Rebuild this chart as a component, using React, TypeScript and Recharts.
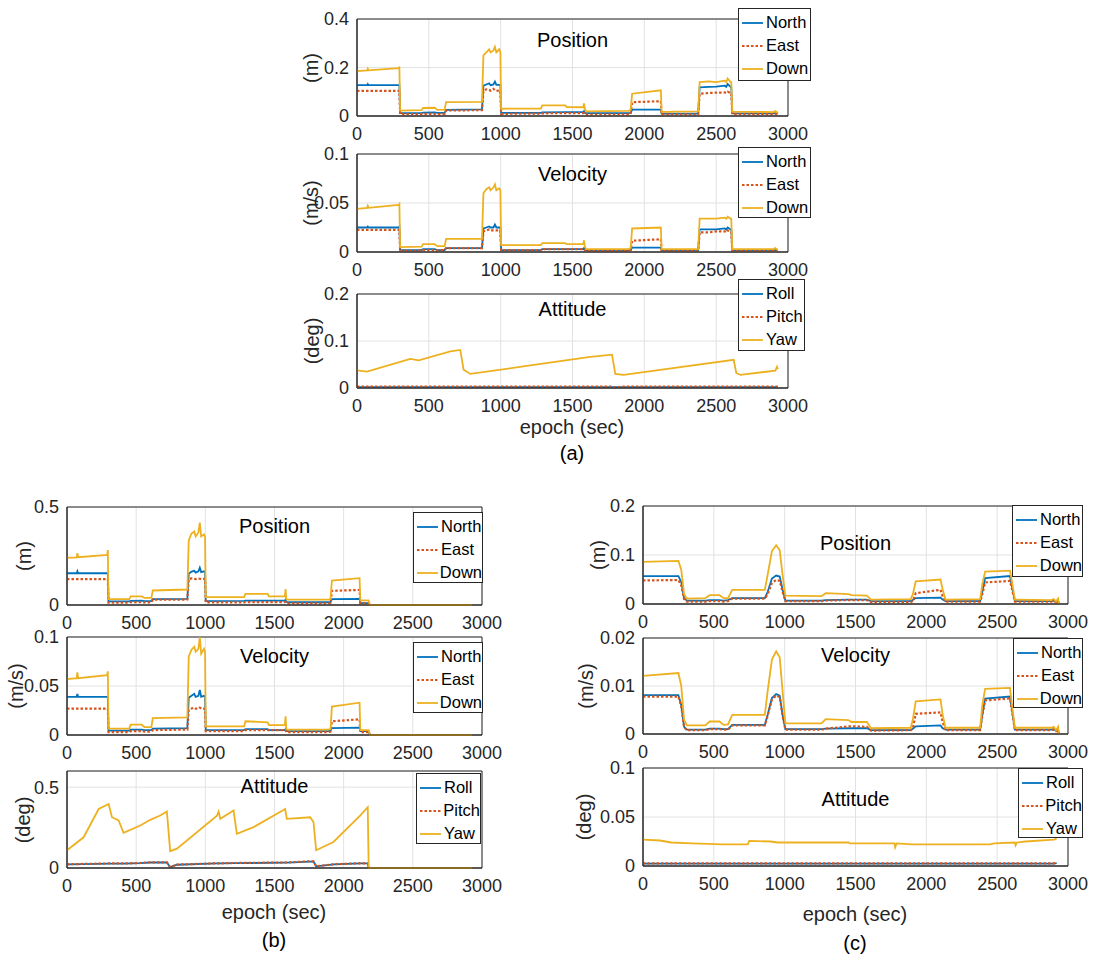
import React from "react";
import {
  LineChart,
  Line,
  XAxis,
  YAxis,
  CartesianGrid,
  Legend,
  ReferenceArea,
} from "recharts";

const BLUE = "#0072BD";
const RED = "#D95319";
const YELLOW = "#EDB120";
const AXIS = "#262626";
const FONT = "'Liberation Sans', Arial, Helvetica, sans-serif";

const X_TICKS = [0, 500, 1000, 1500, 2000, 2500, 3000];
const NED = ["North", "East", "Down"];
const RPY = ["Roll", "Pitch", "Yaw"];
const SERIES_COLORS = [BLUE, RED, YELLOW];

// epochs shared by the stepped position / velocity panels of (a) and (b)
const STEP_EPOCH = [
  0, 70, 75, 80, 290, 295,
  300, 450, 460, 540, 560, 610,
  620, 870,
  880, 900, 920, 930, 950, 960, 970, 990, 998,
  1003, 1280, 1290, 1450, 1460, 1575, 1580, 1585,
  1595, 1890, 1905,
  1915, 2115,
  2120, 2180, 2190, 2375,
  2385, 2450, 2500, 2560, 2570, 2580, 2600, 2605,
  2612, 2900, 2910, 2920, 2930,
];

// (a) position
const A_POS_NORTH = [
  0.127, 0.127, 0.132, 0.127, 0.127, 0.127,
  0.012, 0.012, 0.014, 0.015, 0.013, 0.013,
  0.025, 0.027,
  0.125, 0.13, 0.135, 0.127, 0.13, 0.142, 0.128, 0.128, 0.127,
  0.013, 0.013, 0.015, 0.016, 0.016, 0.016, 0.02, 0.013,
  0.012, 0.012, 0.013,
  0.026, 0.026,
  0.01, 0.01, 0.01, 0.01,
  0.118, 0.12, 0.121, 0.125, 0.12, 0.132, 0.12, 0.12,
  0.011, 0.011, 0.012, 0.012, 0.01,
];
const A_POS_EAST = [
  0.104, 0.104, 0.104, 0.104, 0.104, 0.104,
  0.008, 0.008, 0.009, 0.009, 0.008, 0.009,
  0.023, 0.024,
  0.105, 0.11, 0.108, 0.104, 0.112, 0.105, 0.104, 0.105, 0.104,
  0.009, 0.01, 0.011, 0.012, 0.012, 0.012, 0.013, 0.009,
  0.006, 0.007, 0.008,
  0.057, 0.061,
  0.007, 0.007, 0.007, 0.007,
  0.092, 0.095, 0.096, 0.097, 0.095, 0.1, 0.095, 0.095,
  0.008, 0.008, 0.009, 0.009, 0.007,
];
const A_POS_DOWN = [
  0.185, 0.188, 0.195, 0.188, 0.197, 0.203,
  0.022, 0.024, 0.033, 0.034, 0.025, 0.026,
  0.057, 0.058,
  0.25, 0.262, 0.275, 0.262, 0.27, 0.285, 0.262, 0.275, 0.262,
  0.03, 0.031, 0.044, 0.044, 0.037, 0.036, 0.052, 0.03,
  0.019, 0.021, 0.025,
  0.092, 0.106,
  0.017, 0.017, 0.018, 0.019,
  0.14, 0.143, 0.14, 0.146, 0.14, 0.155, 0.14, 0.14,
  0.018, 0.016, 0.02, 0.017, 0.012,
];

// (a) velocity
const A_VEL_NORTH = [
  0.025, 0.025, 0.026, 0.025, 0.025, 0.026,
  0.002, 0.002, 0.003, 0.003, 0.002, 0.002,
  0.004, 0.004,
  0.024, 0.025, 0.026, 0.025, 0.025, 0.028, 0.025, 0.025, 0.025,
  0.002, 0.002, 0.003, 0.003, 0.003, 0.003, 0.004, 0.002,
  0.002, 0.002, 0.002,
  0.0045, 0.0045,
  0.002, 0.002, 0.002, 0.002,
  0.023, 0.023, 0.023, 0.024, 0.023, 0.025, 0.023, 0.023,
  0.002, 0.002, 0.002, 0.002, 0.002,
];
const A_VEL_EAST = [
  0.0225, 0.0225, 0.0225, 0.0225, 0.0225, 0.0225,
  0.0015, 0.0015, 0.002, 0.002, 0.0015, 0.002,
  0.004, 0.004,
  0.021, 0.022, 0.023, 0.022, 0.022, 0.022, 0.022, 0.022, 0.022,
  0.002, 0.002, 0.003, 0.003, 0.003, 0.003, 0.003, 0.002,
  0.001, 0.001, 0.002,
  0.0115, 0.013,
  0.0015, 0.0015, 0.0015, 0.0015,
  0.02, 0.02, 0.021, 0.021, 0.02, 0.022, 0.02, 0.02,
  0.0015, 0.0015, 0.0015, 0.0015, 0.0015,
];
const A_VEL_DOWN = [
  0.044, 0.045, 0.047, 0.045, 0.048, 0.049,
  0.005, 0.0055, 0.008, 0.008, 0.006, 0.006,
  0.0133, 0.0135,
  0.06, 0.064, 0.066, 0.063, 0.066, 0.069, 0.063, 0.065, 0.063,
  0.007, 0.007, 0.009, 0.009, 0.008, 0.008, 0.012, 0.006,
  0.003, 0.003, 0.004,
  0.024, 0.025,
  0.003, 0.003, 0.003, 0.003,
  0.034, 0.034, 0.034, 0.035, 0.034, 0.036, 0.034, 0.034,
  0.003, 0.003, 0.004, 0.003, 0.002,
];

// (a) attitude
const A_ATT_EPOCH = [0, 70, 371, 430, 650, 719, 742, 789, 1230, 1624, 1775, 1798, 1856, 2622, 2640, 2668, 2912, 2923, 2930];
const A_ATT_ROLL = [0.002, 0.002, 0.002, 0.002, 0.002, 0.002, 0.002, 0.002, 0.002, 0.002, 0.002, 0.002, 0.002, 0.002, 0.002, 0.002, 0.002, 0.002, 0.002];
const A_ATT_PITCH = [0.003, 0.003, 0.003, 0.003, 0.003, 0.003, 0.003, 0.003, 0.003, 0.003, 0.003, 0.001, 0.003, 0.003, 0.003, 0.003, 0.003, 0.003, 0.003];
const A_ATT_YAW = [0.0375, 0.035, 0.062, 0.059, 0.078, 0.081, 0.039, 0.03, 0.049, 0.066, 0.071, 0.03, 0.028, 0.06, 0.032, 0.028, 0.037, 0.045, 0.04];

// (b) position
const B_POS_NORTH = [
  0.162, 0.162, 0.172, 0.162, 0.162, 0.162,
  0.019, 0.019, 0.021, 0.022, 0.02, 0.02,
  0.03, 0.031,
  0.16, 0.17, 0.174, 0.165, 0.172, 0.19, 0.168, 0.172, 0.168,
  0.02, 0.021, 0.022, 0.022, 0.022, 0.022, 0.028, 0.016,
  0.014, 0.014, 0.015,
  0.03, 0.031,
  0.01, 0.01, 0, 0,
  0, 0, 0, 0, 0, 0, 0, 0,
  0, 0, 0, 0, 0,
];
const B_POS_EAST = [
  0.132, 0.132, 0.132, 0.132, 0.132, 0.132,
  0.012, 0.012, 0.014, 0.014, 0.013, 0.013,
  0.027, 0.028,
  0.132, 0.136, 0.134, 0.132, 0.135, 0.134, 0.132, 0.133, 0.132,
  0.013, 0.013, 0.015, 0.015, 0.015, 0.015, 0.016, 0.01,
  0.008, 0.008, 0.01,
  0.072, 0.077,
  0.008, 0.008, 0, 0,
  0, 0, 0, 0, 0, 0, 0, 0,
  0, 0, 0, 0, 0,
];
const B_POS_DOWN = [
  0.241, 0.243, 0.265, 0.244, 0.255, 0.28,
  0.03, 0.03, 0.044, 0.044, 0.036, 0.036,
  0.074, 0.079,
  0.33, 0.365, 0.375, 0.35, 0.37, 0.42, 0.35, 0.36, 0.348,
  0.04, 0.04, 0.057, 0.057, 0.044, 0.044, 0.081, 0.03,
  0.027, 0.027, 0.03,
  0.125, 0.137,
  0.024, 0.024, 0, 0,
  0, 0, 0, 0, 0, 0, 0, 0,
  0, 0, 0, 0, 0,
];

// (b) velocity
const B_VEL_NORTH = [
  0.039, 0.039, 0.042, 0.039, 0.039, 0.039,
  0.0045, 0.0045, 0.0055, 0.0055, 0.005, 0.005,
  0.0065, 0.007,
  0.038, 0.04, 0.042, 0.039, 0.04, 0.046, 0.039, 0.04, 0.039,
  0.005, 0.005, 0.006, 0.006, 0.005, 0.005, 0.006, 0.004,
  0.004, 0.004, 0.0045,
  0.0071, 0.0075,
  0.004, 0.004, 0, 0,
  0, 0, 0, 0, 0, 0, 0, 0,
  0, 0, 0, 0, 0,
];
const B_VEL_EAST = [
  0.027, 0.027, 0.027, 0.027, 0.027, 0.027,
  0.003, 0.003, 0.004, 0.004, 0.0035, 0.0035,
  0.005, 0.0055,
  0.026, 0.027, 0.028, 0.027, 0.027, 0.028, 0.027, 0.027, 0.026,
  0.004, 0.004, 0.005, 0.005, 0.005, 0.005, 0.005, 0.003,
  0.003, 0.003, 0.0035,
  0.014, 0.016,
  0.003, 0.003, 0, 0,
  0, 0, 0, 0, 0, 0, 0, 0,
  0, 0, 0, 0, 0,
];
const B_VEL_DOWN = [
  0.057, 0.058, 0.064, 0.058, 0.061, 0.065,
  0.0065, 0.0065, 0.0105, 0.0105, 0.008, 0.008,
  0.0173, 0.018,
  0.08, 0.087, 0.09, 0.085, 0.088, 0.1, 0.083, 0.088, 0.085,
  0.0088, 0.0088, 0.014, 0.013, 0.01, 0.01, 0.019, 0.006,
  0.0055, 0.0055, 0.006,
  0.029, 0.033,
  0.005, 0.005, 0, 0,
  0, 0, 0, 0, 0, 0, 0, 0,
  0, 0, 0, 0, 0,
];

// (b) attitude
const B_ATT_EPOCH = [0, 120, 229, 301, 325, 373, 409, 530, 602, 674, 722, 746, 795, 1084, 1096, 1108, 1204, 1228, 1349, 1565, 1577, 1589, 1758, 1782, 1801, 1926, 2119, 2174, 2181, 2930];
const B_ATT_ROLL = [0.022, 0.024, 0.026, 0.027, 0.027, 0.027, 0.027, 0.03, 0.034, 0.034, 0.034, 0.005, 0.02, 0.028, 0.028, 0.028, 0.03, 0.03, 0.031, 0.033, 0.033, 0.033, 0.04, 0.04, 0.01, 0.022, 0.028, 0.028, 0, 0];
const B_ATT_PITCH = [0.023, 0.025, 0.027, 0.028, 0.028, 0.028, 0.028, 0.031, 0.035, 0.035, 0.035, 0.006, 0.021, 0.029, 0.029, 0.029, 0.031, 0.031, 0.032, 0.034, 0.034, 0.034, 0.042, 0.041, 0.011, 0.023, 0.029, 0.029, 0, 0];
const B_ATT_YAW = [0.11, 0.19, 0.365, 0.396, 0.314, 0.294, 0.218, 0.263, 0.298, 0.325, 0.349, 0.104, 0.12, 0.324, 0.349, 0.304, 0.355, 0.212, 0.253, 0.359, 0.365, 0.304, 0.314, 0.284, 0.11, 0.161, 0.324, 0.376, 0, 0];

// epochs for the smoother (c) position / velocity panels
const SMOOTH_EPOCH = [
  0, 250, 270, 290, 310,
  440, 470, 540, 570, 600,
  630, 860, 880, 910, 940,
  965, 985, 1005, 1260, 1290,
  1450, 1470, 1580, 1610, 1890,
  1905, 1925, 2100, 2115, 2135,
  2380, 2395, 2415, 2590, 2605,
  2625, 2880, 2900, 2915, 2930, 2935,
];

// (c) position
const C_POS_NORTH = [
  0.057, 0.057, 0.045, 0.012, 0.007,
  0.007, 0.008, 0.008, 0.007, 0.008,
  0.012, 0.012, 0.025, 0.052, 0.058,
  0.056, 0.03, 0.007, 0.007, 0.008,
  0.009, 0.009, 0.009, 0.006, 0.006,
  0.008, 0.012, 0.013, 0.009, 0.006,
  0.006, 0.025, 0.053, 0.057, 0.035,
  0.006, 0.006, 0.007, 0.005, 0.007, 0,
];
const C_POS_EAST = [
  0.048, 0.049, 0.038, 0.01, 0.005,
  0.005, 0.006, 0.006, 0.005, 0.006,
  0.011, 0.011, 0.02, 0.043, 0.049,
  0.047, 0.025, 0.006, 0.006, 0.007,
  0.008, 0.008, 0.008, 0.004, 0.004,
  0.006, 0.022, 0.029, 0.016, 0.005,
  0.005, 0.02, 0.044, 0.047, 0.03,
  0.005, 0.005, 0.006, 0.004, 0.006, 0,
];
const C_POS_DOWN = [
  0.086, 0.088, 0.07, 0.02, 0.011,
  0.012, 0.018, 0.018, 0.012, 0.012,
  0.029, 0.029, 0.06, 0.108, 0.12,
  0.11, 0.06, 0.017, 0.016, 0.022,
  0.02, 0.018, 0.017, 0.009, 0.01,
  0.02, 0.046, 0.05, 0.03, 0.009,
  0.01, 0.04, 0.066, 0.068, 0.045,
  0.009, 0.008, 0.01, 0.005, 0.011, 0,
];

// (c) velocity
const C_VEL_NORTH = [
  0.0081, 0.0081, 0.006, 0.0015, 0.0009,
  0.0009, 0.0011, 0.0011, 0.001, 0.001,
  0.0019, 0.0019, 0.004, 0.0075, 0.0083,
  0.008, 0.004, 0.001, 0.001, 0.0011,
  0.0012, 0.0012, 0.0012, 0.0008, 0.0008,
  0.0011, 0.0016, 0.0018, 0.0012, 0.0009,
  0.0009, 0.004, 0.0074, 0.0078, 0.005,
  0.0009, 0.0009, 0.001, 0.0007, 0.001, 0,
];
const C_VEL_EAST = [
  0.0078, 0.0078, 0.0058, 0.0014, 0.0008,
  0.0008, 0.001, 0.001, 0.0009, 0.0009,
  0.0018, 0.0018, 0.0038, 0.0072, 0.008,
  0.0077, 0.0038, 0.0009, 0.0009, 0.0011,
  0.0016, 0.0016, 0.0015, 0.0007, 0.0008,
  0.0012, 0.0042, 0.0045, 0.0025, 0.0008,
  0.0008, 0.0038, 0.007, 0.0074, 0.0048,
  0.0008, 0.0008, 0.0009, 0.0006, 0.0009, 0,
];
const C_VEL_DOWN = [
  0.0121, 0.0127, 0.01, 0.003, 0.0018,
  0.0018, 0.0026, 0.0026, 0.0019, 0.002,
  0.004, 0.004, 0.009, 0.0155, 0.0172,
  0.016, 0.009, 0.0022, 0.0022, 0.0031,
  0.0029, 0.0025, 0.0025, 0.0012, 0.0013,
  0.003, 0.0068, 0.0072, 0.004, 0.0013,
  0.0013, 0.006, 0.0094, 0.0096, 0.006,
  0.0013, 0.0013, 0.0015, 0.0008, 0.0015, 0,
];

// (c) attitude
const C_ATT_EPOCH = [0, 120, 200, 350, 560, 740, 750, 900, 950, 1450, 1460, 1775, 1780, 1790, 1900, 2450, 2480, 2625, 2630, 2640, 2700, 2900, 2920];
const C_ATT_ROLL = [0.0025, 0.0025, 0.0025, 0.0025, 0.0025, 0.0025, 0.0025, 0.0025, 0.0025, 0.0025, 0.0025, 0.0025, 0.0025, 0.0025, 0.0025, 0.0025, 0.0025, 0.0025, 0.0025, 0.0025, 0.0025, 0.0025, 0.003];
const C_ATT_PITCH = [0.0027, 0.0027, 0.0027, 0.0027, 0.0027, 0.0027, 0.0027, 0.0027, 0.0027, 0.0027, 0.0027, 0.0027, 0.0027, 0.0027, 0.0027, 0.0027, 0.0027, 0.0027, 0.0027, 0.0027, 0.0027, 0.0027, 0.0035];
const C_ATT_YAW = [0.027, 0.026, 0.024, 0.023, 0.022, 0.022, 0.0256, 0.025, 0.024, 0.024, 0.023, 0.023, 0.019, 0.023, 0.022, 0.022, 0.023, 0.024, 0.021, 0.024, 0.025, 0.027, 0.028];

type Box = [number, number, number, number];

interface PanelProps {
  plot: Box; // left, top, width, height of the plot area (page px)
  legendBox: Box;
  yMax: number;
  yTicks: number[];
  epoch: number[];
  series: number[][];
  names: string[];
  title: string;
  titleY: number;
  yLabel: string;
  yLabelX: number;
}

const PAD_L = 60;
const PAD_T = 14;
const PAD_R = 44;
const PAD_B = 30;

function Panel({ plot, legendBox, yMax, yTicks, epoch, series, names, title, titleY, yLabel, yLabelX }: PanelProps) {
  const [px, py, pw, ph] = plot;
  const ox = px - PAD_L;
  const oy = py - PAD_T;
  const rows = epoch.map((t, i) => ({ t, s0: series[0][i], s1: series[1][i], s2: series[2][i] }));
  const tickStyle = { fill: AXIS, fontSize: 18, fontFamily: FONT };

  return (
    <>
      <div style={{ position: "absolute", left: ox, top: oy }}>
        <LineChart
          width={pw + PAD_L + PAD_R}
          height={ph + PAD_T + PAD_B}
          data={rows}
          margin={{ top: PAD_T, right: PAD_R, left: 0, bottom: 0 }}
        >
          <CartesianGrid stroke="#e2e2e2" />
          <XAxis
            dataKey="t"
            type="number"
            domain={[0, 3000]}
            ticks={X_TICKS}
            interval={0}
            height={PAD_B}
            tickLine={false}
            axisLine={{ stroke: AXIS }}
            tick={tickStyle}
            tickMargin={5}
          />
          <YAxis
            type="number"
            domain={[0, yMax]}
            ticks={yTicks}
            interval={0}
            width={PAD_L}
            tickLine={false}
            axisLine={{ stroke: AXIS }}
            tick={tickStyle}
            tickMargin={2}
          />
          <ReferenceArea x1={0} x2={3000} y1={0} y2={yMax} fill="none" fillOpacity={0} stroke={AXIS} strokeOpacity={1} />
          <Line dataKey="s0" name={names[0]} stroke={BLUE} strokeWidth={1.8} dot={false} isAnimationActive={false} />
          <Line dataKey="s1" name={names[1]} stroke={RED} strokeWidth={2.2} strokeDasharray="2.5 2" dot={false} isAnimationActive={false} />
          <Line dataKey="s2" name={names[2]} stroke={YELLOW} strokeWidth={1.8} dot={false} isAnimationActive={false} />
          <Legend
            layout="vertical"
            align="center"
            verticalAlign="middle"
            wrapperStyle={{ left: legendBox[0] - ox, top: legendBox[1] - oy, width: legendBox[2], height: legendBox[3] }}
            content={() => (
              <div
                style={{
                  width: legendBox[2],
                  height: legendBox[3],
                  boxSizing: "border-box",
                  border: `1px solid ${AXIS}`,
                  background: "#fff",
                  paddingTop: 2,
                  paddingLeft: 3,
                  fontFamily: FONT,
                  fontSize: 16.5,
                  color: "#000",
                }}
              >
                {names.map((name, i) => (
                  <div key={name} style={{ display: "flex", alignItems: "center", height: 23 }}>
                    <svg width={22} height={4} style={{ display: "block" }}>
                      <line
                        x1={0}
                        y1={2}
                        x2={21}
                        y2={2}
                        stroke={SERIES_COLORS[i]}
                        strokeWidth={i === 1 ? 2.2 : 1.8}
                        strokeDasharray={i === 1 ? "2.5 2" : undefined}
                      />
                    </svg>
                    <span style={{ marginLeft: 2, lineHeight: 1 }}>{name}</span>
                  </div>
                ))}
              </div>
            )}
          />
        </LineChart>
      </div>
      <div
        style={{
          position: "absolute",
          left: px + pw / 2,
          top: titleY,
          transform: "translate(-50%, -50%)",
          fontSize: 20,
          whiteSpace: "nowrap",
          color: "#000",
        }}
      >
        {title}
      </div>
      <div
        style={{
          position: "absolute",
          left: yLabelX,
          top: py + ph / 2,
          transform: "translate(-50%, -50%) rotate(-90deg)",
          fontSize: 20,
          whiteSpace: "nowrap",
          color: AXIS,
        }}
      >
        {yLabel}
      </div>
    </>
  );
}

function Caption({ x, y, text, color }: { x: number; y: number; text: string; color: string }) {
  return (
    <div
      style={{
        position: "absolute",
        left: x,
        top: y,
        transform: "translate(-50%, -50%)",
        fontSize: 20,
        whiteSpace: "nowrap",
        color,
      }}
    >
      {text}
    </div>
  );
}

export default function App() {
  return (
    <div
      style={{
        position: "absolute",
        left: 0,
        top: 0,
        width: 1117,
        height: 954,
        background: "#fff",
        fontFamily: FONT,
        overflow: "hidden",
      }}
    >
      {/* (a) */}
      <Panel plot={[357, 19, 431, 97]} legendBox={[738, 8, 73, 73]} yMax={0.4} yTicks={[0, 0.2, 0.4]}
        epoch={STEP_EPOCH} series={[A_POS_NORTH, A_POS_EAST, A_POS_DOWN]} names={NED}
        title="Position" titleY={40} yLabel="(m)" yLabelX={311} />
      <Panel plot={[357, 154, 431, 98]} legendBox={[738, 147, 73, 71]} yMax={0.1} yTicks={[0, 0.05, 0.1]}
        epoch={STEP_EPOCH} series={[A_VEL_NORTH, A_VEL_EAST, A_VEL_DOWN]} names={NED}
        title="Velocity" titleY={174} yLabel="(m/s)" yLabelX={311} />
      <Panel plot={[357, 294, 431, 94]} legendBox={[738, 279, 67, 72]} yMax={0.2} yTicks={[0, 0.1, 0.2]}
        epoch={A_ATT_EPOCH} series={[A_ATT_ROLL, A_ATT_PITCH, A_ATT_YAW]} names={RPY}
        title="Attitude" titleY={309} yLabel="(deg)" yLabelX={312} />
      <Caption x={572} y={427} text="epoch (sec)" color={AXIS} />
      <Caption x={572} y={453} text="(a)" color="#000" />

      {/* (b) */}
      <Panel plot={[67, 507, 415, 98]} legendBox={[413, 512, 70, 71]} yMax={0.5} yTicks={[0, 0.5]}
        epoch={STEP_EPOCH} series={[B_POS_NORTH, B_POS_EAST, B_POS_DOWN]} names={NED}
        title="Position" titleY={526} yLabel="(m)" yLabelX={24} />
      <Panel plot={[67, 637, 415, 98]} legendBox={[413, 642, 70, 71]} yMax={0.1} yTicks={[0, 0.05, 0.1]}
        epoch={STEP_EPOCH} series={[B_VEL_NORTH, B_VEL_EAST, B_VEL_DOWN]} names={NED}
        title="Velocity" titleY={656} yLabel="(m/s)" yLabelX={16} />
      <Panel plot={[67, 771, 415, 97]} legendBox={[416, 773, 65, 71]} yMax={0.6} yTicks={[0, 0.5]}
        epoch={B_ATT_EPOCH} series={[B_ATT_ROLL, B_ATT_PITCH, B_ATT_YAW]} names={RPY}
        title="Attitude" titleY={786} yLabel="(deg)" yLabelX={23} />
      <Caption x={274} y={912} text="epoch (sec)" color={AXIS} />
      <Caption x={274} y={940} text="(b)" color="#000" />

      {/* (c) */}
      <Panel plot={[643, 506, 425, 98]} legendBox={[1012, 505, 71, 72]} yMax={0.2} yTicks={[0, 0.1, 0.2]}
        epoch={SMOOTH_EPOCH} series={[C_POS_NORTH, C_POS_EAST, C_POS_DOWN]} names={NED}
        title="Position" titleY={543} yLabel="(m)" yLabelX={598} />
      <Panel plot={[643, 638, 425, 96]} legendBox={[1013, 638, 70, 70]} yMax={0.02} yTicks={[0, 0.01, 0.02]}
        epoch={SMOOTH_EPOCH} series={[C_VEL_NORTH, C_VEL_EAST, C_VEL_DOWN]} names={NED}
        title="Velocity" titleY={655} yLabel="(m/s)" yLabelX={586} />
      <Panel plot={[643, 768, 425, 98]} legendBox={[1018, 768, 65, 70]} yMax={0.1} yTicks={[0, 0.05, 0.1]}
        epoch={C_ATT_EPOCH} series={[C_ATT_ROLL, C_ATT_PITCH, C_ATT_YAW]} names={RPY}
        title="Attitude" titleY={799} yLabel="(deg)" yLabelX={584} />
      <Caption x={855} y={914} text="epoch (sec)" color={AXIS} />
      <Caption x={855} y={943} text="(c)" color="#000" />
    </div>
  );
}
